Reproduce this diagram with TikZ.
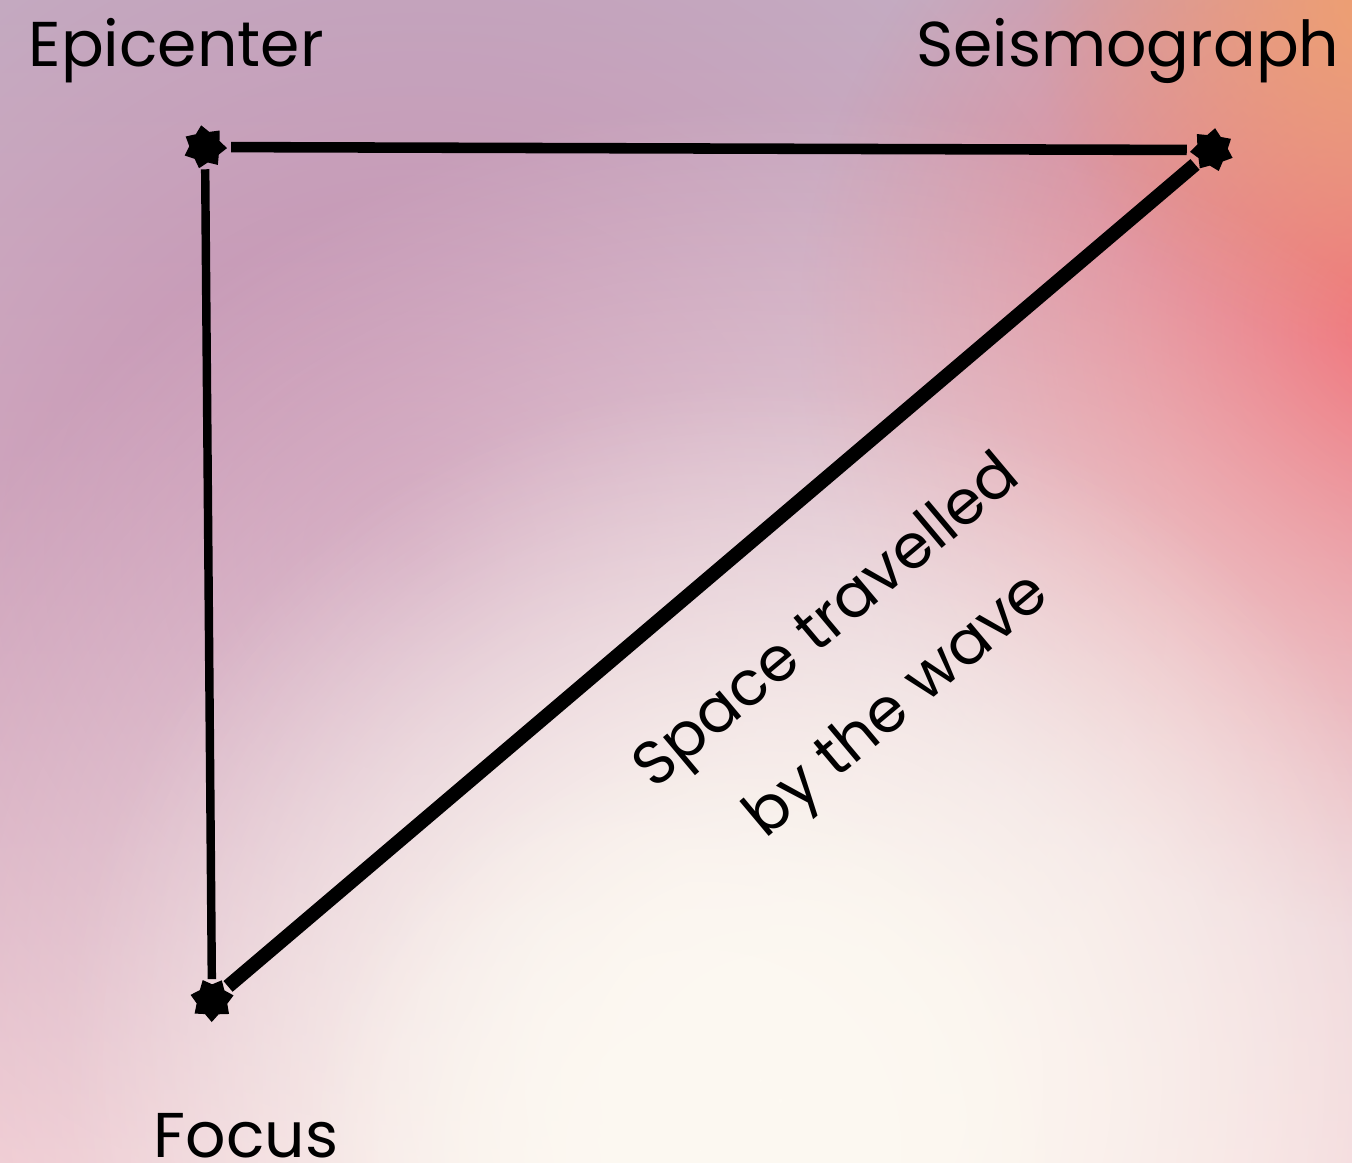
\documentclass[tikz,border=0pt]{standalone}
\usepackage{fontspec}
\setmainfont{Poppins}
\usetikzlibrary{shapes.geometric,fadings}
\definecolor{bgtop}{HTML}{C4ACC2}
\definecolor{bgbot}{HTML}{EEC4CE}
\definecolor{mauve}{HTML}{C48BAE}
\definecolor{coral}{HTML}{F27278}
\definecolor{peach}{HTML}{EFA070}
\definecolor{cream}{HTML}{FDF9F2}
\tikzfading[name=blob,inner color=transparent!0,outer color=transparent!100]
\tikzset{
  corner/.style={shape=star,star points=7,star point ratio=1.4,fill=black,inner sep=0pt,minimum size=4.4mm},
  side/.style={line cap=butt,shorten <=1.2pt,shorten >=1.2pt},
  tag/.style={font=\fontsize{18}{31}\selectfont,inner sep=0pt}
}
\begin{document}
\begin{tikzpicture}[x=0.01cm,y=-0.01cm]
  % background: soft colour blobs
  \useasboundingbox (0,0) rectangle (1352,1162);
  \shade[top color=bgtop,bottom color=bgbot] (0,0) rectangle (1352,1162);
  \begin{scope}
    \clip (0,0) rectangle (1352,1162);
    \fill[mauve,path fading=blob] (420,560) circle (7.5cm);
    \fill[coral,path fading=blob] (1400,330) circle (6cm);
    \fill[peach,path fading=blob] (1380,0) circle (3.5cm);
    \fill[cream,path fading=blob] (780,1100) circle (10cm);
    \fill[cream,path fading=blob] (760,1080) circle (7cm);
    \fill[cream,path fading=blob] (700,1150) circle (4cm);
  \end{scope}

  % vertices
  \node[corner,rotate=10] (epi) at (205,147) {};
  \node[corner,rotate=-8] (seis) at (1212,150) {};
  \node[corner,rotate=25] (foc) at (212,1000) {};

  % sides of the triangle
  \draw[side,line width=3pt] (epi) -- (seis);
  \draw[side,line width=2.4pt] (epi) -- (foc);
  \draw[side,line width=4pt] (foc) -- (seis);

  \node[tag,anchor=base west] (epitxt) at (28,66) {Epicenter};
  \node[tag,anchor=base east] (seistxt) at (1340,66) {Seismograph};
  \node[tag,anchor=base west] (foctxt) at (153,1157) {Focus};
  \node[tag,font=\fontsize{17.5}{31}\selectfont,align=center,rotate=40] (path) at (864,666) {Space travelled\\by the wave};
\end{tikzpicture}
\end{document}
